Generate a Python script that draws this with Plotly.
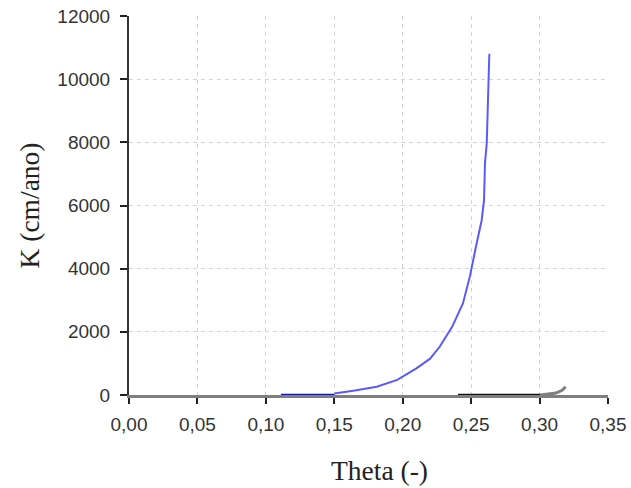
import plotly.graph_objects as go

# Hydraulic conductivity K (cm/ano) vs. volumetric water content Theta (-)
theta_low = [0.111, 0.150]
k_low = [0, 0]

theta_curve = [0.150, 0.165, 0.181, 0.196, 0.210, 0.220, 0.227, 0.236, 0.244,
               0.249, 0.254, 0.2577, 0.2594, 0.2601, 0.2614, 0.2620, 0.2625, 0.2633]
k_curve = [50, 140, 262, 480, 844, 1150, 1527, 2150, 2900,
           3740, 4797, 5534, 6166, 7336, 7968, 9200, 10172, 10805]

theta_flat = [0.2404, 0.3006]
k_flat = [0, 0]

theta_tail = [0.3006, 0.305, 0.312, 0.3165, 0.319]
k_tail = [0, 20, 60, 150, 260]

x_ticks = [0.00, 0.05, 0.10, 0.15, 0.20, 0.25, 0.30, 0.35]
x_labels = ["0,00", "0,05", "0,10", "0,15", "0,20", "0,25", "0,30", "0,35"]
y_ticks = [0, 2000, 4000, 6000, 8000, 10000, 12000]
y_labels = ["0", "2000", "4000", "6000", "8000", "10000", "12000"]

fig = go.Figure()
fig.add_trace(go.Scatter(x=theta_curve, y=k_curve, mode="lines",
                         line=dict(color="#5a5aff", width=2), showlegend=False))
fig.add_trace(go.Scatter(x=theta_low, y=k_low, mode="lines",
                         line=dict(color="#1a1aa0", width=2.5), showlegend=False))
fig.add_trace(go.Scatter(x=theta_tail, y=k_tail, mode="lines",
                         line=dict(color="#7f7f7f", width=3), showlegend=False))
fig.add_trace(go.Scatter(x=theta_flat, y=k_flat, mode="lines",
                         line=dict(color="#111111", width=2.5), showlegend=False))

tick_font = dict(family="Liberation Sans, Arial, sans-serif", size=19, color="#333333")
title_font = dict(family="Liberation Serif, Times New Roman, serif", size=27.5, color="#222222")

fig.update_layout(
    width=631, height=488,
    margin=dict(l=129, r=23, t=16, b=93),
    paper_bgcolor="white", plot_bgcolor="white",
    xaxis=dict(
        range=[0, 0.35], tickvals=x_ticks, ticktext=x_labels, automargin=False,
        showgrid=True, gridcolor="#d6d6d6", griddash="4px,4px", gridwidth=1,
        showline=True, linecolor="#7f7f7f", linewidth=3,
        ticks="outside", ticklen=6, tickwidth=1.5, tickcolor="#222222",
        ticklabelstandoff=4, tickfont=tick_font, zeroline=False,
    ),
    yaxis=dict(
        range=[0, 12000], tickvals=y_ticks, ticktext=y_labels, automargin=False,
        showgrid=True, gridcolor="#d6d6d6", griddash="4px,4px", gridwidth=1,
        showline=True, linecolor="#333333", linewidth=2,
        ticks="outside", ticklen=7, tickwidth=1.5, tickcolor="#222222",
        ticklabelstandoff=6, tickfont=tick_font, zeroline=False,
        title=dict(text="K (cm/ano)", font=title_font, standoff=10),
    ),
    annotations=[dict(
        text="Theta (-)", font=title_font, showarrow=False,
        xref="paper", yref="paper", x=0.524, y=-0.198,
        xanchor="center", yanchor="middle",
    )],
)

fig.write_html("out.html")
